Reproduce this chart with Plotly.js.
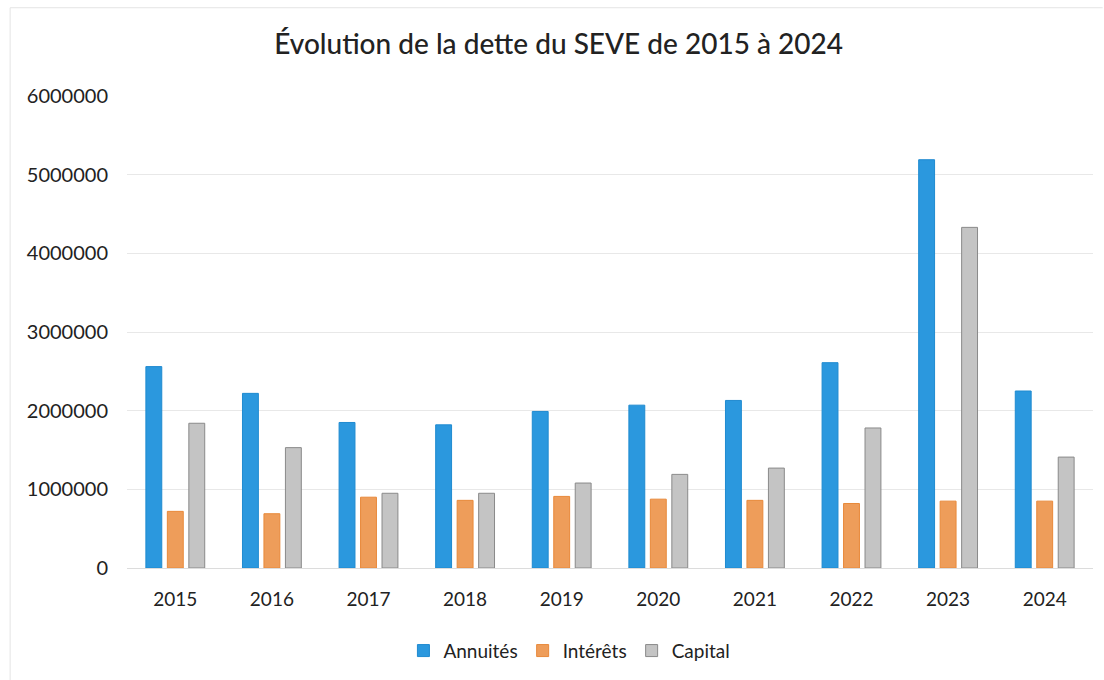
<!DOCTYPE html>
<html>
<head>
<meta charset="utf-8">
<script src="https://cdn.plot.ly/plotly-3.0.1.min.js"></script>
<style>
html,body{margin:0;padding:0;background:#fff;}
#chart{width:1104px;height:680px;}
</style>
</head>
<body>
<div id="chart"></div>
<script>
const years = ['2015','2016','2017','2018','2019','2020','2021','2022','2023','2024'];
const annuites = [2560000, 2220000, 1850000, 1820000, 1990000, 2070000, 2130000, 2610000, 5190000, 2250000];
const interets = [720000, 690000, 900000, 860000, 910000, 875000, 860000, 820000, 850000, 850000];
const capital = [1840000, 1530000, 950000, 950000, 1080000, 1190000, 1270000, 1780000, 4330000, 1410000];

const font = 'Lato, "Open Sans", sans-serif';

const traces = [
  {name:'Annuités', x:years, y:annuites, type:'bar',
   marker:{color:'#2b98de', line:{color:'#1f8ad0', width:1}}},
  {name:'Intérêts', x:years, y:interets, type:'bar',
   marker:{color:'#ee9d5a', line:{color:'#e8893a', width:1}}},
  {name:'Capital', x:years, y:capital, type:'bar',
   marker:{color:'#c4c4c4', line:{color:'#8a8a8a', width:1}}}
];

const layout = {
  width:1104, height:680,
  margin:{l:127, r:11, t:96, b:112, autoexpand:false},
  paper_bgcolor:'#fff', plot_bgcolor:'#fff',
  title:{text:'Évolution de la dette du SEVE de 2015 à 2024', x:0.506, xanchor:'center', y:0.935, yanchor:'middle',
         font:{family:font, size:28, color:'#222', weight:500}},
  barmode:'group', bargap:0.333, bargroupgap:0.26,
  showlegend:true,
  legend:{orientation:'h', x:0.458, xanchor:'center', y:-0.135, yanchor:'top',
          font:{family:font, size:19, color:'#222'}, traceorder:'normal', itemwidth:30},
  xaxis:{type:'category', automargin:false, showgrid:false, zeroline:false, showline:true, linecolor:'#dcdcdc', linewidth:1,
         ticks:'', ticklabelstandoff:14, tickfont:{family:font, size:19, color:'#222'}},
  yaxis:{range:[0,6000000], automargin:false, dtick:1000000, tickformat:'d', showgrid:true, gridcolor:'#e8e8e8', gridwidth:1,
         zeroline:false, showline:false, ticks:'', ticklabelstandoff:18,
         tickfont:{family:font, size:20, color:'#222'}},
  shapes:[
    {type:'line', xref:'paper', yref:'paper', x0:-0.121, x1:-0.121, y0:1.187, y1:-0.3, line:{color:'#e4e4e4', width:1}},
    {type:'line', xref:'paper', yref:'paper', x0:-0.121, x1:1.01, y0:1.187, y1:1.187, line:{color:'#e4e4e4', width:1}}
  ]
};

Plotly.newPlot('chart', traces, layout, {displayModeBar:false, responsive:false});
</script>
</body>
</html>
